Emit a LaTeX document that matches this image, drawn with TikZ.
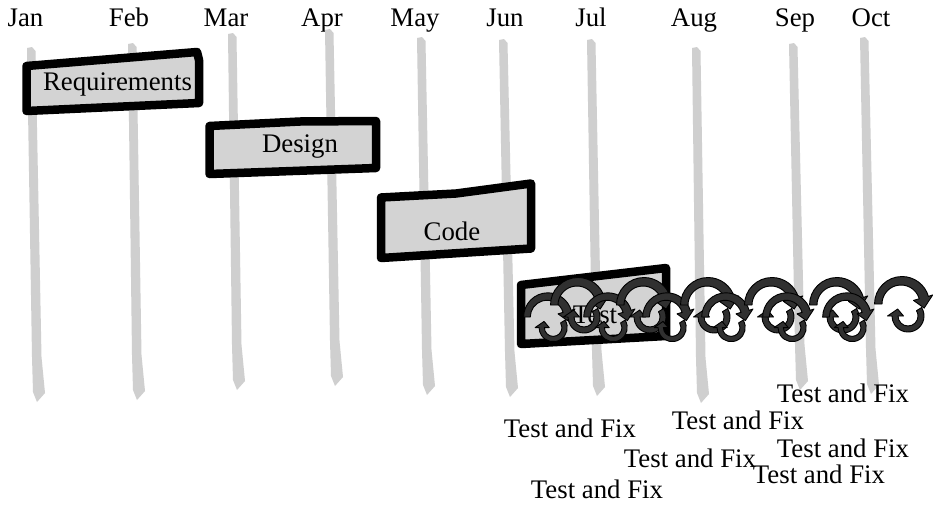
\documentclass[tikz,border=0pt]{standalone}
\usepackage{fontspec}
\setmainfont{Liberation Serif}
\definecolor{linegray}{HTML}{CFCFCF}
\definecolor{boxgray}{HTML}{D3D3D3}
\definecolor{arrowfill}{HTML}{303030}
\newcommand{\monthline}[4]{%
  \fill[gline] ({#1-4},{#2+1}) -- ({#1+1},#2) -- ({#1+4.5},{#2+4}) -- ({#3+4.5},{#4-45}) -- ({#3+8},{#4-9}) -- (#3,#4) -- ({#3-4},{#4-10}) -- ({#3-5},{#4-45}) -- cycle;}
\tikzset{
  lbl/.style={font=\fontsize{26.8}{30}\selectfont, anchor=base, inner sep=0pt},
  gline/.style={fill=linegray, draw=none},
  taskbox/.style={draw=black, line width=8.5pt, fill=boxgray, line join=round},
  arrowpart/.style={fill=arrowfill, draw=black, line width=0.9pt, line join=round},
  cycarrow/.pic={
    \filldraw[arrowpart] (180:26.5) arc[start angle=180, end angle=344, radius=27.5]
      -- (344:33) -- (10:23.5) -- (344:13) -- (344:19)
      arc[start angle=344, end angle=180, radius=19] -- cycle;
    \begin{scope}[shift={(7,12)}]
      \filldraw[arrowpart] (-32:16) arc[start angle=-32, end angle=180, radius=16]
        -- (180:20.5) -- (214:12.5) -- (180:4.5) -- (180:10)
        arc[start angle=180, end angle=-32, radius=10] -- cycle;
    \end{scope}
  }
}
\begin{document}
\begin{tikzpicture}[x=1pt,y=-1pt]
\useasboundingbox (0,0) rectangle (933,506);
\fill[white] (0,0) rectangle (933,506);

% month labels
\node[lbl] (mJan) at (25.5,27) {Jan};
\node[lbl] (mFeb) at (129,27) {Feb};
\node[lbl] (mMar) at (226,27) {Mar};
\node[lbl] (mApr) at (322,27) {Apr};
\node[lbl] (mMay) at (415,27) {May};
\node[lbl] (mJun) at (505,27) {Jun};
\node[lbl] (mJul) at (591,27) {Jul};
\node[lbl] (mAug) at (694,27) {Aug};
\node[lbl] (mSep) at (795,27) {Sep};
\node[lbl] (mOct) at (871,27) {Oct};

% month lines
\monthline{31}{47}{37}{402}
\monthline{132}{43}{137}{400}
\monthline{232}{33}{237}{390}
\monthline{329}{29}{335}{386}
\monthline{421}{37}{427}{395}
\monthline{503}{39}{510}{397}
\monthline{591}{39}{597}{396}
\monthline{696}{47}{701}{403}
\monthline{793}{43}{800}{390}
\monthline{864}{37}{871}{394}

% task boxes
\filldraw[taskbox] (26.5,66) -- (197,52) -- (199,60) -- (199,103) -- (26.5,111) -- cycle;
\node[lbl] (treq) at (117.5,90) {Requirements};
\filldraw[taskbox] (209.5,126) -- (300,121.5) -- (376,121) -- (376,168) -- (209.5,174) -- cycle;
\node[lbl] (tdes) at (300,152) {Design};
\filldraw[taskbox] (381,197.5) -- (456,193.5) -- (531,183.5) -- (531,248.5) -- (381,258) -- cycle;
\node[lbl] (tcode) at (452,240) {Code};
\filldraw[taskbox] (521,285) -- (666,268) -- (666,336) -- (521,344) -- cycle;
\node[lbl] (ttest) at (595,323) {Test};

% cycle icons
\path (547,317) pic[scale=0.88] {cycarrow};
\path (577,305) pic {cycarrow};
\path (607,317) pic[scale=0.88] {cycarrow};
\path (643,305) pic {cycarrow};
\path (666,317) pic[scale=0.88] {cycarrow};
\path (707,305) pic {cycarrow};
\path (725,317) pic[scale=0.88] {cycarrow};
\path (771,305) pic {cycarrow};
\path (786,317) pic[scale=0.88] {cycarrow};
\path (836,305) pic {cycarrow};
\path (846,317) pic[scale=0.88] {cycarrow};
\path (901,304) pic {cycarrow};

% test and fix labels
\node[lbl] (tf1) at (570,437) {Test and Fix};
\node[lbl] (tf2) at (738,429) {Test and Fix};
\node[lbl] (tf3) at (843,402) {Test and Fix};
\node[lbl] (tf4) at (843,457) {Test and Fix};
\node[lbl] (tf5) at (690,467) {Test and Fix};
\node[lbl] (tf6) at (819,483) {Test and Fix};
\node[lbl] (tf7) at (597,498) {Test and Fix};
\end{tikzpicture}
\end{document}
